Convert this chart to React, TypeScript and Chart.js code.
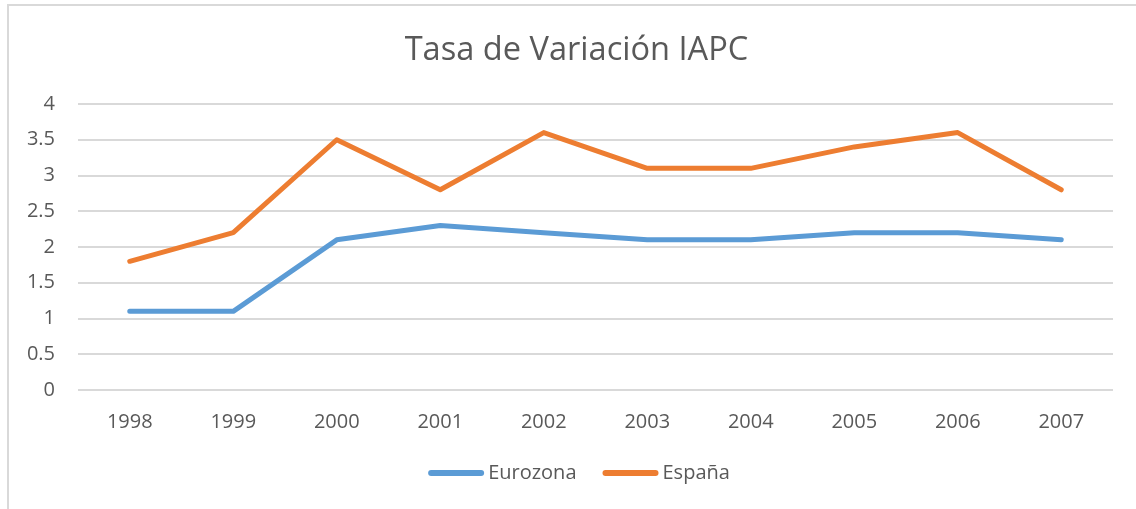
import React, { useEffect, useRef } from "react";
import { Chart, registerables } from "chart.js";

Chart.register(...registerables);

const years = ["1998", "1999", "2000", "2001", "2002", "2003", "2004", "2005", "2006", "2007"];
const eurozona = [1.1, 1.1, 2.1, 2.3, 2.2, 2.1, 2.1, 2.2, 2.2, 2.1];
const espana = [1.8, 2.2, 3.5, 2.8, 3.6, 3.1, 3.1, 3.4, 3.6, 2.8];
const titleText = "Tasa de Variación IAPC";

const FONT = "'Open Sans', 'Noto Sans', sans-serif";
const TEXT = "#595959";

const customTitleLegend = {
  id: "customTitleLegend",
  afterDraw(chart: any) {
    const ctx = chart.ctx;
    ctx.save();
    // title
    ctx.font = `32.6px ${FONT}`;
    ctx.fillStyle = TEXT;
    ctx.textAlign = "center";
    ctx.textBaseline = "middle";
    ctx.fillText(titleText, 576.5, 50.6);

    // legend
    const datasets = chart.data.datasets;
    const fontSize = 20;
    const lineW = 56;
    const gapText = 4;
    const gapItem = 26;
    const y = 473;
    ctx.font = `${fontSize}px ${FONT}`;
    const widths = datasets.map((d: any) => lineW + gapText + ctx.measureText(d.label).width);
    const total = widths.reduce((a: number, b: number) => a + b, 0) + gapItem * (datasets.length - 1);
    let x = 579 - total / 2;
    datasets.forEach((d: any, i: number) => {
      ctx.strokeStyle = d.borderColor;
      ctx.lineWidth = 6;
      ctx.lineCap = "round";
      ctx.beginPath();
      ctx.moveTo(x + 3, y);
      ctx.lineTo(x + lineW - 3, y);
      ctx.stroke();
      ctx.fillStyle = TEXT;
      ctx.textBaseline = "middle";
      ctx.textAlign = "left";
      ctx.fillText(d.label, x + lineW + gapText, y);
      x += widths[i] + gapItem;
    });
    ctx.restore();
  },
};

export default function App() {
  const ref = useRef<HTMLCanvasElement | null>(null);

  useEffect(() => {
    if (!ref.current) return;
    const chart = new Chart(ref.current, {
      type: "line",
      data: {
        labels: years,
        datasets: [
          {
            label: "Eurozona",
            data: eurozona,
            borderColor: "#5B9BD5",
            backgroundColor: "#5B9BD5",
            borderWidth: 5,
            pointRadius: 0,
            pointHoverRadius: 0,
            borderCapStyle: "round",
            borderJoinStyle: "round",
            tension: 0,
          },
          {
            label: "España",
            data: espana,
            borderColor: "#ED7D31",
            backgroundColor: "#ED7D31",
            borderWidth: 5,
            pointRadius: 0,
            pointHoverRadius: 0,
            borderCapStyle: "round",
            borderJoinStyle: "round",
            tension: 0,
          },
        ],
      },
      options: {
        animation: false,
        responsive: false,
        maintainAspectRatio: false,
        layout: { padding: { left: 0, right: 23, top: 104, bottom: 55 } },
        plugins: {
          title: { display: false },
          legend: { display: false },
          tooltip: { enabled: false },
        },
        scales: {
          x: {
            offset: true,
            grid: { display: false, drawTicks: false },
            border: { display: false },
            ticks: { color: TEXT, font: { family: FONT, size: 20 }, padding: 20, maxRotation: 0 },
            afterFit: (s: any) => {
              s.height = 64;
            },
          },
          y: {
            min: 0,
            max: 4,
            ticks: {
              stepSize: 0.5,
              color: TEXT,
              font: { family: FONT, size: 20 },
              padding: 23,
              callback: (v: any) => String(v),
            },
            grid: { color: "#D9D9D9", lineWidth: 2, drawTicks: false },
            border: { display: false },
            afterFit: (s: any) => {
              s.width = 78;
            },
          },
        },
      },
      plugins: [customTitleLegend],
    });
    return () => chart.destroy();
  }, []);

  return (
    <div style={{ position: "fixed", left: 0, top: 0, width: 1136, height: 509, background: "#fff", overflow: "hidden" }}>
      <div
        style={{
          position: "absolute",
          left: 7,
          top: 4,
          width: 1200,
          height: 600,
          borderLeft: "2px solid #D9D9D9",
          borderTop: "2px solid #D9D9D9",
        }}
      />
      <canvas ref={ref} width={1136} height={509} style={{ position: "absolute", left: 0, top: 0 }} />
    </div>
  );
}
